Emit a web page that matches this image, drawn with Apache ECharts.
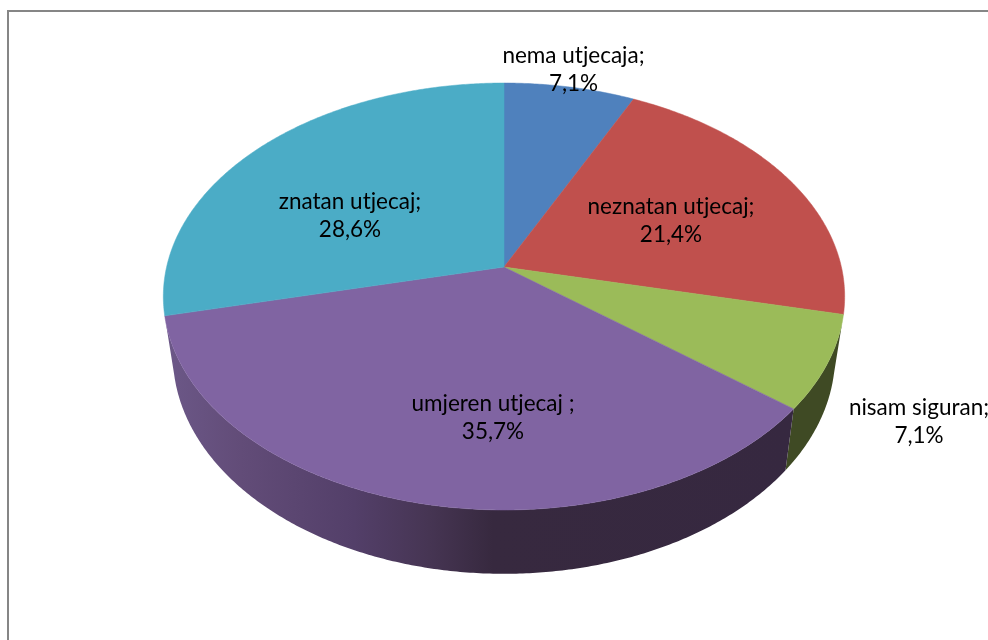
<!DOCTYPE html>
<html><head><meta charset="utf-8">
<style>html,body{margin:0;padding:0;background:#fff}#c{width:988px;height:640px}</style>
<script src="https://cdn.jsdelivr.net/npm/echarts@6/dist/echarts.min.js"></script>
</head><body><div id="c"></div>
<script>
const categories = ['nema utjecaja', 'neznatan utjecaj', 'nisam siguran', 'umjeren utjecaj ', 'znatan utjecaj'];
const values = [7.1, 21.4, 7.1, 35.7, 28.6];
const colors = ['#4F81BD', '#C0504D', '#9BBB59', '#8064A2', '#4BACC6'];

// Perspective of the tilted disc
const CX = 504, CY = 267, A = 337.4, B = 209.4, K = 0.1382;
const BOTTOM = { sx: 0.972, sy: 1.024, y0: 325 };
const labelCentres = [[573.5, 69.5], [671, 220.5], [919, 421.5], [493, 417.5], [350, 215.5]];
const total = values.reduce((a, b) => a + b, 0);
let acc = 0;
const ranges = values.map(v => { const s = acc; acc += v; return [s / total * 360, acc / total * 360]; });

function unit(deg) {
  const t = deg * Math.PI / 180, X = Math.sin(t), Y = Math.cos(t), w = 1 + K * Y;
  return [A * X / w, B * Y / w];
}
const top3d = d => { const u = unit(d); return [CX + u[0], CY - u[1]]; };
const bot3d = d => { const u = unit(d); return [CX + BOTTOM.sx * u[0], BOTTOM.y0 - BOTTOM.sy * u[1]]; };
function arc(fn, a, b) {
  const n = Math.max(2, Math.ceil(Math.abs(b - a))) * 2, p = [];
  for (let i = 0; i <= n; i++) p.push(fn(a + (b - a) * i / n));
  return p;
}
const frontIdx = ranges.map((r, i) => { const m = (r[0] + r[1]) / 2; return m > 90 && m < 270 ? i : -1; }).filter(i => i >= 0);
const sideFill = {
  2: '#3F4A24',
  3: { type: 'linear', x: 165, y: 0, x2: 795, y2: 0, global: true, colorStops: [
    { offset: 0, color: '#6C5888' }, { offset: 0.12, color: '#624C78' }, { offset: 0.3, color: '#533F69' },
    { offset: 0.42, color: '#463553' }, { offset: 0.52, color: '#37293F' }, { offset: 1, color: '#362840' }] }
};

const rows = values.map((v, i) => [v, i]);
const chart = echarts.init(document.getElementById('c'), null, { renderer: 'canvas' });
chart.setOption({
  backgroundColor: '#fff',
  animation: false,
  graphic: [
    { type: 'line', silent: true, shape: { x1: 8, y1: 11, x2: 988, y2: 11 }, style: { stroke: '#868686', lineWidth: 2 } },
    { type: 'line', silent: true, shape: { x1: 8, y1: 10, x2: 8, y2: 640 }, style: { stroke: '#868686', lineWidth: 2 } }
  ],
  series: [
    { type: 'custom', coordinateSystem: 'none', silent: true, z: 1, data: rows,
      renderItem(params, api) {
        const i = api.value(1);
        if (!frontIdx.includes(i)) return { type: 'group', children: [] };
        const [s, e] = ranges[i];
        return { type: 'polygon', shape: { points: arc(top3d, s, e).concat(arc(bot3d, e, s)) },
                 style: { fill: sideFill[i], stroke: null } };
      } },
    { type: 'custom', coordinateSystem: 'none', silent: true, z: 2, data: rows,
      renderItem(params, api) {
        const i = api.value(1), r = ranges[i];
        return { type: 'polygon', shape: { points: [[CX, CY]].concat(arc(top3d, r[0], r[1])) },
                 style: { fill: colors[i], stroke: colors[i], lineWidth: 0.5 } };
      } },
    { type: 'custom', coordinateSystem: 'none', silent: true, z: 3, data: rows,
      renderItem(params, api) {
        const i = api.value(1), c = labelCentres[i];
        return { type: 'text', x: c[0], y: c[1], style: {
          text: categories[i] + ';\n' + String(api.value(0)).replace('.', ',') + '%',
          fill: '#000', font: '22.5px Lato', align: 'center', verticalAlign: 'middle', lineHeight: 28 } };
      } }
  ]
});
</script></body></html>
